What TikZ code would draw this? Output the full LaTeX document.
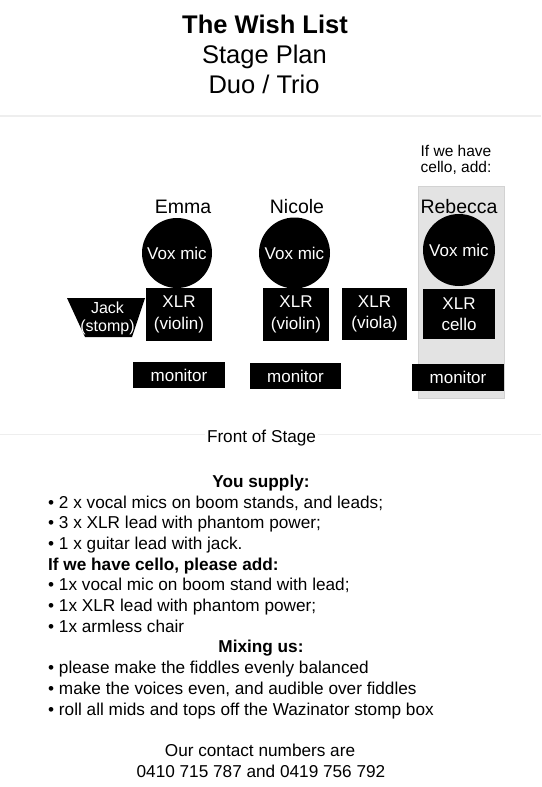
\documentclass[tikz,border=0pt]{standalone}
\usepackage{fontspec}
\setmainfont{Liberation Sans}
\definecolor{rulegray}{HTML}{EEEEEE}
\definecolor{castfill}{HTML}{E3E3E3}
\definecolor{castedge}{HTML}{D2D2D2}

\begin{document}
\begin{tikzpicture}[x=1pt, y=-1pt,
  micdot/.style={circle, fill=black, text=white, inner sep=0pt, font=\fontsize{17}{20}\selectfont},
  xlrbox/.style={rectangle, fill=black, text=white, inner sep=0pt, align=center, font=\fontsize{17}{21.5}\selectfont},
  monbox/.style={rectangle, fill=black, text=white, inner sep=0pt, minimum height=26pt, font=\fontsize{17}{20}\selectfont},
  namelbl/.style={anchor=base, inner sep=0pt, font=\fontsize{19.5}{22}\selectfont},
  bodyline/.style={anchor=base west, inner sep=0pt, font=\fontsize{17.2}{20.7}\selectfont},
  bodyhead/.style={anchor=base, inner sep=0pt, font=\fontsize{17.2}{20.7}\selectfont\bfseries}]
  \useasboundingbox[fill=white] (0,0) rectangle (541,787);

  \node[anchor=base, inner sep=0pt, font=\fontsize{25.5}{30}\selectfont\bfseries] (title) at (265,33) {The Wish List};
  \node[anchor=base, inner sep=0pt, font=\fontsize{25.5}{30}\selectfont] (plan) at (264.5,63) {Stage Plan};
  \node[anchor=base, inner sep=0pt, font=\fontsize{25.5}{30}\selectfont] (lineup) at (264,93) {Duo / Trio};

  \draw[rulegray, line width=1.5pt] (0,116) -- (541,116);
  \draw[rulegray, line width=1.5pt] (0,434.5) -- (541,434.5);

  \fill[castfill] (418,186) rectangle (504,398);
  \draw[castedge, line width=0.8pt] (418,186) rectangle (504,398);

  \node[anchor=base, inner sep=0pt, font=\fontsize{15.5}{17}\selectfont] (iftop) at (456,156) {If we have};
  \node[anchor=base, inner sep=0pt, font=\fontsize{15.5}{17}\selectfont] (ifbot) at (456,172.7) {cello, add:};

  \node[namelbl] (emma) at (183,213.5) {Emma};
  \node[namelbl] (nicole) at (297,213.5) {Nicole};
  \node[namelbl] (rebecca) at (459,213.5) {Rebecca};

  \node[micdot, minimum size=70pt] (emmamic) at (177,253) {Vox mic};
  \node[micdot, minimum size=71pt] (nicolemic) at (294.5,253) {Vox mic};
  \node[micdot, minimum size=72pt] (rebeccamic) at (459,250) {Vox mic};

  \fill (67,298) -- (145,298) -- (132,337) -- (85,337) -- cycle;
  \node[text=white, inner sep=0pt, align=center, font=\fontsize{16}{18}\selectfont] (jack) at (107.5,318) {Jack\\(stomp)};

  \node[xlrbox, minimum width=66pt, minimum height=53pt] (emmaxlr) at (179,314.5) {XLR\\(violin)};
  \node[xlrbox, minimum width=66pt, minimum height=53pt] (nicolexlr) at (296,314.5) {XLR\\(violin)};
  \node[xlrbox, minimum width=65pt, minimum height=52pt] (violaxlr) at (374.5,314) {XLR\\(viola)};
  \node[xlrbox, minimum width=72pt, minimum height=50pt] (celloxlr) at (459,314) {XLR\\cello};

  \node[monbox, minimum width=92pt] (emmamon) at (179,375) {monitor};
  \node[monbox, minimum width=91pt] (nicolemon) at (295.5,376) {monitor};
  \node[monbox, minimum width=92pt, minimum height=27pt] (rebeccamon) at (458,377.5) {monitor};

  \node[anchor=base, fill=white, inner sep=2pt, font=\fontsize{17.2}{20.7}\selectfont] (front) at (261.5,442.5) {Front of Stage};

  \node[bodyhead] (supply) at (261,487.3) {You supply:};
  \node[bodyline] (sup1) at (48,508) {\textbullet{} 2 x vocal mics on boom stands, and leads;};
  \node[bodyline] (sup2) at (48,528.7) {\textbullet{} 3 x XLR lead with phantom power;};
  \node[bodyline] (sup3) at (48,549.4) {\textbullet{} 1 x guitar lead with jack.};
  \node[bodyline, font=\fontsize{17.2}{20.7}\selectfont\bfseries] (cellohead) at (48,570.1) {If we have cello, please add:};
  \node[bodyline] (add1) at (48,590.8) {\textbullet{} 1x vocal mic on boom stand with lead;};
  \node[bodyline] (add2) at (48,611.5) {\textbullet{} 1x XLR lead with phantom power;};
  \node[bodyline] (add3) at (48,632.2) {\textbullet{} 1x armless chair};
  \node[bodyhead] (mixing) at (261,652.9) {Mixing us:};
  \node[bodyline] (mix1) at (48,673.6) {\textbullet{} please make the fiddles evenly balanced};
  \node[bodyline] (mix2) at (48,694.3) {\textbullet{} make the voices even, and audible over fiddles};
  \node[bodyline] (mix3) at (48,715) {\textbullet{} roll all mids and tops off the Wazinator stomp box};

  \node[anchor=base, inner sep=0pt, font=\fontsize{17.2}{20.7}\selectfont] (contact) at (260,756.7) {Our contact numbers are};
  \node[anchor=base, inner sep=0pt, font=\fontsize{17.2}{20.7}\selectfont] (numbers) at (261,777.3) {0410 715 787 and 0419 756 792};
\end{tikzpicture}
\end{document}
